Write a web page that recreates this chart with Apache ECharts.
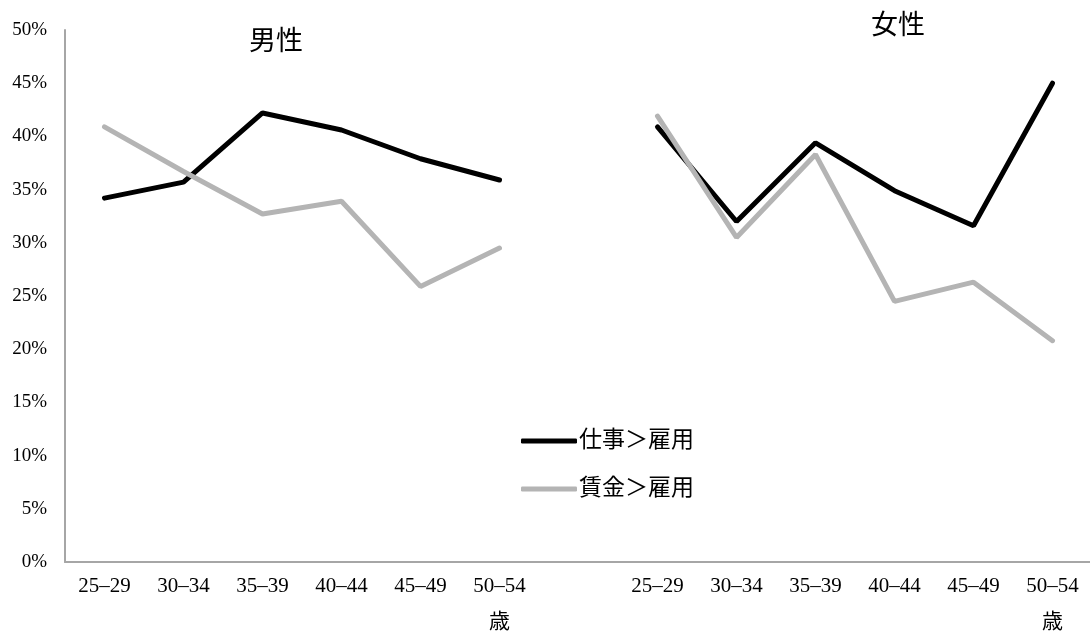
<!DOCTYPE html>
<html><head><meta charset="utf-8">
<script src="https://cdn.jsdelivr.net/npm/echarts@6/dist/echarts.min.js"></script>
<style>html,body{margin:0;padding:0;background:#fff}#c{width:1090px;height:635px}</style>
</head><body><div id="c"></div>
<script>
const categories = ['25–29','30–34','35–39','40–44','45–49','50–54\n歳','','25–29','30–34','35–39','40–44','45–49','50–54\n歳'];
const workSeries = [34.2, 35.7, 42.2, 40.6, 37.9, 35.9, null, 40.9, 32.0, 39.4, 34.9, 31.6, 45.0];
const wageSeries = [40.9, 36.7, 32.7, 33.9, 25.9, 29.5, null, 41.9, 30.5, 38.3, 24.5, 26.3, 20.8];
const seriesNames = ['仕事＞雇用', '賃金＞雇用'];
const yTicks = {min: 0, max: 50, interval: 5};
const panelTitles = ['男性', '女性'];

const serif = "'Liberation Serif', 'DejaVu Serif', 'Noto Sans CJK JP', serif";
const chart = echarts.init(document.getElementById('c'), null, {renderer: 'canvas'});
chart.setOption({
  animation: false,
  backgroundColor: '#fff',
  title: [
    {text: panelTitles[0], left: 271, top: 24, textAlign: 'center',
     textStyle: {fontFamily: serif, fontSize: 27, fontWeight: 'normal', color: '#000'}},
    {text: panelTitles[1], left: 893, top: 8, textAlign: 'center',
     textStyle: {fontFamily: serif, fontSize: 27, fontWeight: 'normal', color: '#000'}}
  ],
  legend: {
    orient: 'vertical', left: 521, top: 429, padding: 0, itemWidth: 56, itemHeight: 5, itemGap: 24,
    icon: 'roundRect',
    textStyle: {fontFamily: serif, fontSize: 23, lineHeight: 24, color: '#000', padding: [0, 0, 0, -3]},
    data: seriesNames
  },
  grid: {left: 65, top: 30, bottom: 73, right: -2, outerBoundsMode: 'none', containLabel: false},
  xAxis: {
    type: 'category', data: categories, boundaryGap: true,
    axisLine: {lineStyle: {color: '#a6a6a6', width: 2}},
    axisTick: {show: false},
    axisLabel: {interval: 0, margin: 6, fontFamily: serif, fontSize: 21, color: '#000', lineHeight: 36}
  },
  yAxis: {
    type: 'value', min: yTicks.min, max: yTicks.max, interval: yTicks.interval,
    axisLine: {show: true, lineStyle: {color: '#a6a6a6', width: 2}},
    axisTick: {show: false},
    splitLine: {show: false},
    axisLabel: {formatter: '{value}%', margin: 18, fontFamily: serif, fontSize: 19, color: '#000'}
  },
  series: [
    {name: seriesNames[0], type: 'line', data: workSeries, symbol: 'none', connectNulls: false,
     lineStyle: {color: '#000', width: 5, cap: 'round'}, itemStyle: {color: '#000'}},
    {name: seriesNames[1], type: 'line', data: wageSeries, symbol: 'none', connectNulls: false,
     lineStyle: {color: '#b4b4b4', width: 5, cap: 'round'}, itemStyle: {color: '#b4b4b4'}}
  ]
});
</script></body></html>
